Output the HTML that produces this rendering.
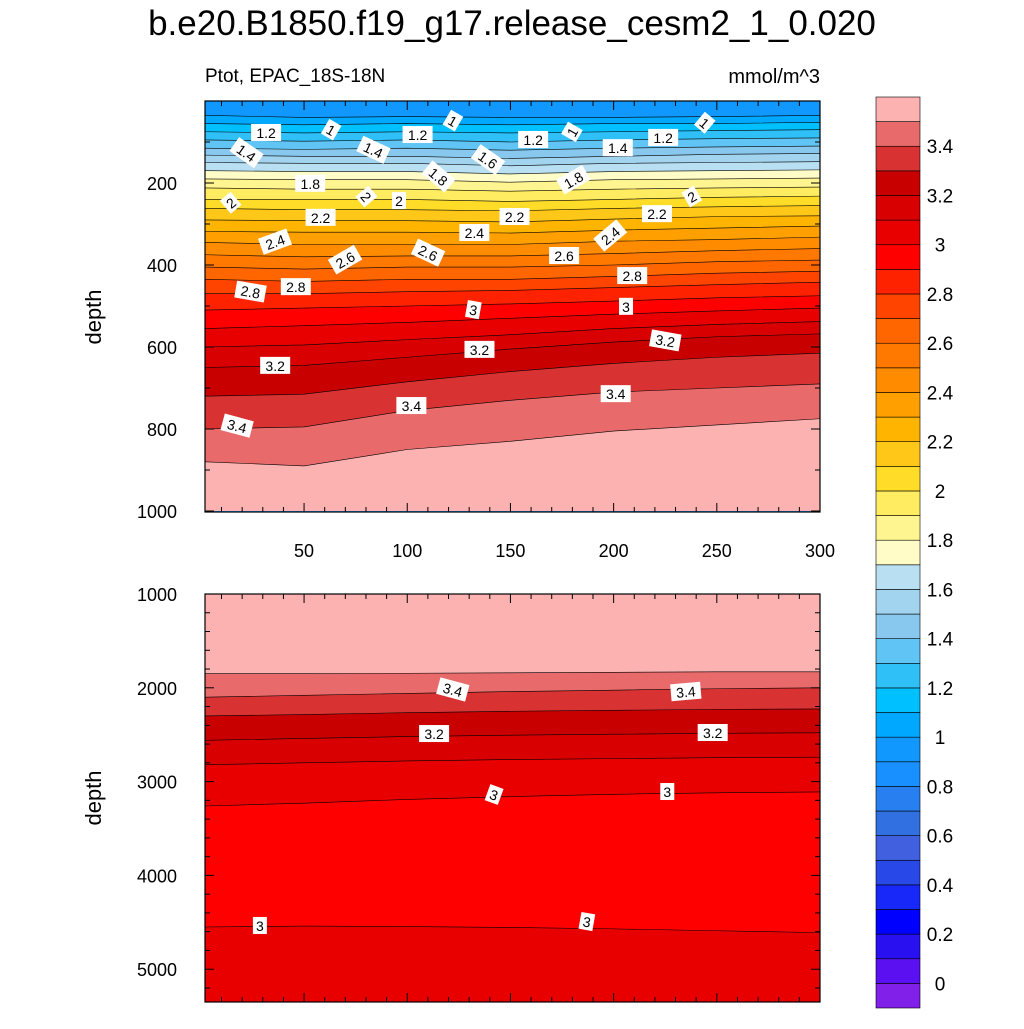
<!DOCTYPE html>
<html><head><meta charset="utf-8"><style>
html,body{margin:0;padding:0;background:#fff;}
svg text{font-family:"Liberation Sans",sans-serif;}
</style></head><body>
<svg id="chart" width="1024" height="1024" viewBox="0 0 1024 1024" xmlns="http://www.w3.org/2000/svg">
<text x="512" y="35" font-size="35" text-anchor="middle">b.e20.B1850.f19_g17.release_cesm2_1_0.020</text>
<text x="205" y="82" font-size="19">Ptot, EPAC_18S-18N</text>
<text x="820" y="83" font-size="20" text-anchor="end">mmol/m^3</text>
<text transform="translate(101,317) rotate(-90)" font-size="22" text-anchor="middle">depth</text>
<text transform="translate(101,798) rotate(-90)" font-size="22" text-anchor="middle">depth</text>
<g id="top"></g><g id="bot"></g><g id="cbar"></g>
</svg>
<script>
// ---- data ----
const colors = ["#8020E8","#5A10F0","#2810F0","#0000FF","#1828F8","#2848E8","#4060E0","#3070E0","#2880F0","#1890FF","#1098FF","#00A8FF","#00C0FF","#30C0F8","#60C4F4","#88C8EE","#A2D4F0","#B8E0F2","#FFFCC8","#FFF590","#FFEC60","#FFDC28","#FFC818","#FFB400","#FFA000","#FF8C00","#FF7800","#FF6600","#FF4400","#FF2200","#FF0000","#E80000","#D80000","#C80000","#D83232","#E86A6A","#FDB2B2"];
const cbarLabels = ["0","0.2","0.4","0.6","0.8","1","1.2","1.4","1.6","1.8","2","2.2","2.4","2.6","2.8","3","3.2","3.4"];
const xs = [0,50,100,150,200,250,300];
const topLevels = [1.0,1.1,1.2,1.3,1.4,1.5,1.6,1.7,1.8,1.9,2.0,2.1,2.2,2.3,2.4,2.5,2.6,2.7,2.8,2.9,3.0,3.1,3.2,3.3,3.4,3.5];
const topDepths = [
[35,40,38,40,40,38,35],[55,58,55,58,55,55,52],[75,78,75,78,75,72,70],[95,98,95,100,95,92,90],
[115,118,115,120,115,112,110],[132,135,135,140,135,130,128],[150,152,152,158,152,150,148],
[170,172,172,178,172,170,168],[190,192,192,198,192,190,188],[212,215,215,220,215,212,210],
[240,240,240,245,240,235,232],[262,265,265,268,262,258,255],[290,292,292,295,288,282,280],
[318,320,320,322,315,310,305],[345,350,350,350,342,338,332],[375,380,378,378,372,365,360],
[405,410,405,405,400,392,388],[435,440,435,435,428,420,415],[470,470,465,462,455,448,442],
[510,505,500,495,488,480,475],[555,548,540,530,520,512,505],[600,595,582,570,555,545,538],
[650,645,625,605,588,575,568],[720,715,685,660,640,625,615],[800,795,755,730,710,700,690],
[880,890,850,830,805,790,775]];
const topLabels = [[31.6,78,"1.2",0],[63,71,"1",30],[22,127,"1.4",35],[83.5,120,"1.4",25],[105,83,"1.2",0],[122,49,"1",30],[139,144,"1.6",35],[161,95,"1.2",0],[180,76,"1",-60],[202,115,"1.4",0],[224,90,"1.2",0],[244,54,"1",40],[53,202,"1.8",0],[115,185,"1.8",40],[80,234,"2",50],[96,244,"2",0],[180.6,193,"1.8",-30],[238,234,"2",-30],[14.6,249,"2",-40],[58,285,"2.2",0],[152,283,"2.2",0],[221,276,"2.2",0],[36,344,"2.4",-20],[132.5,322,"2.4",0],[198.5,329,"2.4",-40],[70,388,"2.6",-30],[110,371,"2.6",25],[176,378,"2.6",0],[24,466,"2.8",10],[46,454,"2.8",0],[209,427,"2.8",0],[132,510,"3",10],[206,502,"3",0],[36,646,"3.2",0],[135,607,"3.2",0],[225,585,"3.2",10],[17.5,793,"3.4",15],[102,744,"3.4",0],[201,715,"3.4",0]];
const botDepths = [[1850,1850,1845,1840,1835,1830,1830],[2100,2080,2060,2040,2025,2010,2000],[2300,2285,2265,2250,2240,2230,2225],[2560,2540,2520,2505,2495,2485,2480],[2820,2800,2780,2765,2755,2745,2740],[3260,3230,3190,3160,3135,3120,3110],[4550,4540,4545,4555,4570,4590,4610]];
const botBandIdx = [36,35,34,33,32,31,30,31];
const botLabels = [[122,2023,"3.4",15],[235,2045,"3.4",-5],[113,2493,"3.2",0],[248,2482,"3.2",0],[142,3143,"3",20],[226,3111,"3",0],[28.6,4539,"3",0],[187,4497,"3",10]];
// ---- axes ----
const NS="http://www.w3.org/2000/svg";
const L=205,R=820;
const sx=v=>L+(v-2)*(R-L)/298;
const syT=d=>101+d*0.41;
const syB=d=>594+(d-1000)*0.0938;
function mk(t,a,p){const e=document.createElementNS(NS,t);for(const k in a)e.setAttribute(k,a[k]);p.appendChild(e);return e;}
function bandPath(top,bot,sy){
  const tx=x=>Math.min(R,Math.max(L,sx(x)));
  let pts=[];for(let i=0;i<xs.length;i++)pts.push([tx(xs[i]),sy(top[i])]);
  let bp=[];for(let i=xs.length-1;i>=0;i--)bp.push([tx(xs[i]),sy(bot[i])]);
  return "M"+pts.map(q=>q.join(",")).join("L")+"L"+bp.map(q=>q.join(",")).join("L")+"Z";
}
function linePath(d,sy){const tx=x=>Math.min(R,Math.max(L,sx(x)));return "M"+xs.map((x,i)=>tx(x)+","+sy(d[i])).join("L");}
function label(g,x,y,t,rot,name){
  const gg=mk("g",{transform:`translate(${x},${y}) rotate(${rot})`},g);
  
  
  const w=t.length*8+6;
  mk("rect",{x:-w/2,y:-9,width:w,height:17,fill:"#fff"},gg);
  const tt=mk("text",{x:0,y:5,"font-size":14,"text-anchor":"middle"},gg);tt.textContent=t;
}
function ticks(g,sy,ylo,yhi,majY,minY,yLab,xLabels){
  for(let x=10;x<=300;x+=10){const maj=x%50===0;const X=sx(x);const len=maj?9:5;
    [[syT===sy?101:594,1],[sy===syT?512:1002,-1]].forEach(([y,s])=>{const e=mk("line",{x1:X,x2:X,y1:y,y2:y+s*len,stroke:"#000","stroke-width":1},g);});
    if(maj&&xLabels){const t=mk("text",{x:X,y:557,"font-size":18,"text-anchor":"middle"},g);t.textContent=x;}
  }
  for(let d=ylo;d<=yhi;d+=minY){const maj=d%majY===0;const Y=sy(d);const len=maj?9:5;
    const e1=mk("line",{x1:L,x2:L+len,y1:Y,y2:Y,stroke:"#000"},g);
    mk("line",{x1:R,x2:R-len,y1:Y,y2:Y,stroke:"#000"},g);
    if(maj&&d>0){const t=mk("text",{x:177,y:Y+7,"font-size":18,"text-anchor":"end"},g);t.textContent=d;}
  }
}
// ---- top panel ----
const gT=document.getElementById("top");


mk("rect",{x:L,y:101,width:R-L,height:411,fill:colors[10]},gT);
const bottomArr=xs.map(()=>1000);
topLevels.forEach((lv,k)=>{
  const idx=Math.round(lv*10)+1;
  const p=mk("path",{d:bandPath(topDepths[k],bottomArr,syT),fill:colors[Math.min(36,idx)]},gT);
  
  
});
topLevels.forEach((lv,k)=>{mk("path",{d:linePath(topDepths[k],syT),fill:"none",stroke:"#000","stroke-width":0.6},gT);});
topLabels.forEach(l=>label(gT,sx(l[0]),syT(l[1]),l[2],l[3],'contour-label'));
mk("rect",{x:L,y:101,width:R-L,height:411,fill:"none",stroke:"#000","stroke-width":1.2},gT);
ticks(gT,syT,0,1000,200,100,true,true);
// ---- bottom panel ----
const gB=document.getElementById("bot");


mk("rect",{x:L,y:594,width:R-L,height:408,fill:colors[botBandIdx[0]]},gB);
const botBottom=xs.map(()=>5350);
botDepths.forEach((b,k)=>{
  const p=mk("path",{d:bandPath(b,botBottom,syB),fill:colors[botBandIdx[k+1]]},gB);
  
  
});
botDepths.forEach(b=>mk("path",{d:linePath(b,syB),fill:"none",stroke:"#000","stroke-width":0.6},gB));
botLabels.forEach(l=>label(gB,sx(l[0]),syB(l[1]),l[2],l[3],'contour-label'));
mk("rect",{x:L,y:594,width:R-L,height:408,fill:"none",stroke:"#000","stroke-width":1.2},gB);
ticks(gB,syB,1000,5200,1000,200,true,false);
// ---- colorbar ----
const gC=document.getElementById("cbar");


const cT=97,cB=1008,n=colors.length,bh=(cB-cT)/n;
colors.forEach((c,i)=>{
  const r=mk("rect",{x:876,y:cB-(i+1)*bh,width:44,height:bh,fill:c,stroke:"#000","stroke-width":0.6},gC);
  
  
});
cbarLabels.forEach((t,j)=>{
  const y=cB-(j*2+1)*bh;
  const e=mk("text",{x:940,y:y+7,"font-size":19,"text-anchor":"middle"},gC);
  e.textContent=t;
  
  
});
</script>
</body></html>
